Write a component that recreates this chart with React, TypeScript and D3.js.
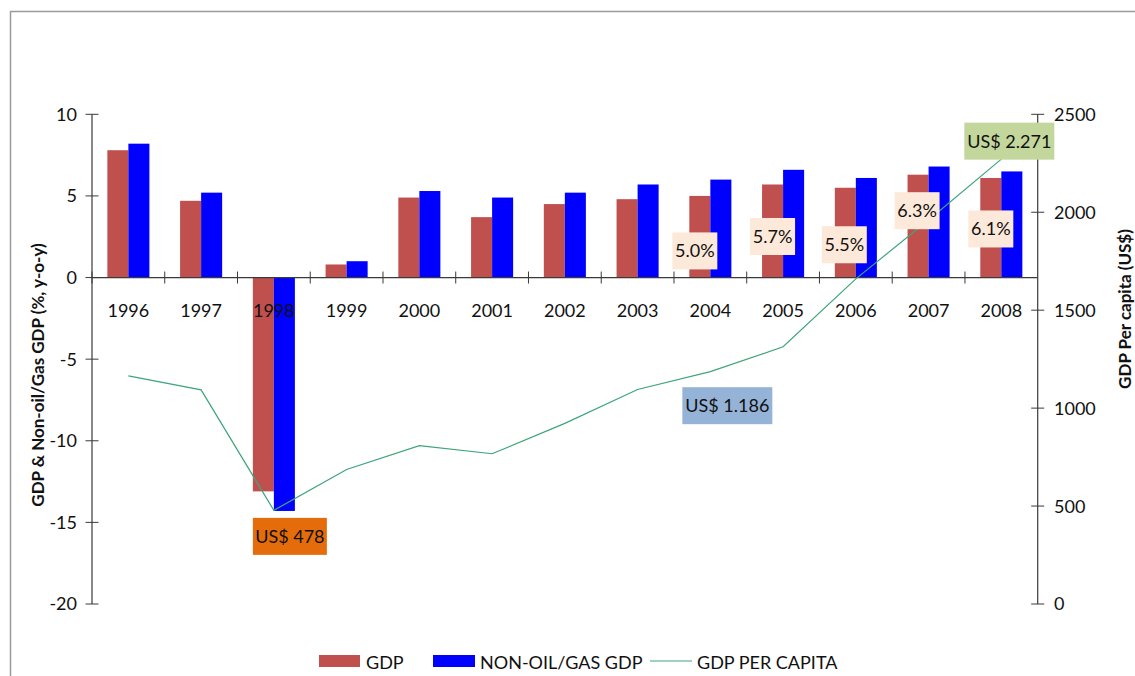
import React from 'react';
import * as d3 from 'd3';

const years = ['1996', '1997', '1998', '1999', '2000', '2001', '2002', '2003', '2004', '2005', '2006', '2007', '2008'];
const gdpGrowth = [7.8, 4.7, -13.1, 0.8, 4.9, 3.7, 4.5, 4.8, 5.0, 5.7, 5.5, 6.3, 6.1];
const nonOilGrowth = [8.2, 5.2, -14.3, 1.0, 5.3, 4.9, 5.2, 5.7, 6.0, 6.6, 6.1, 6.8, 6.5];
const perCapita = [1165, 1093, 478, 687, 808, 767, 922, 1095, 1186, 1313, 1660, 1960, 2271];
const leftTicks = [-20, -15, -10, -5, 0, 5, 10];
const rightTicks = [0, 500, 1000, 1500, 2000, 2500];
const pctLabelYears = ['2004', '2005', '2006', '2007', '2008'];
const capitaLabels = [
  { year: '1998', text: 'US$ 478' },
  { year: '2004', text: 'US$ 1.186' },
  { year: '2008', text: 'US$ 2.271' },
];

// label nudges in px (dx, dy of box centre from the anchor point)
const pctNudge = [[-5, 55], [0, 52], [-1, 57], [-1, 36], [0, 51]];
const capitaStyle = [
  { dx: 16, dy: 26, w: 74, fill: '#E46C0A' },
  { dx: 17, dy: 34, w: 90, fill: '#95B3D7' },
  { dx: 8, dy: -18, w: 90, fill: '#C3D69B' },
];

const W = 1135;
const H = 676;
const left = 92;
const right = 1037.7;
const top = 114.3;
const bottom = 604;
const font = 'Lato, "Open Sans", sans-serif';
const axisColor = '#3a3a3a';

export default function App() {
  const x = d3.scaleBand<string>().domain(years).range([left, right]).padding(0);
  const inner = d3.scaleBand<string>().domain(['gdp', 'nonoil']).range([0, x.bandwidth()]).paddingInner(0).paddingOuter(0.73);
  const yL = d3.scaleLinear().domain([-20, 10]).range([bottom, top]);
  const yR = d3.scaleLinear().domain([0, 2500]).range([bottom, top]);
  const cx = (y: string) => (x(y) as number) + x.bandwidth() / 2;

  const line = d3.line<number>().x((_, i) => cx(years[i])).y((d) => yR(d));
  const y0 = yL(0);

  return (
    <svg width={W} height={H} style={{ position: 'absolute', left: 0, top: 0, background: '#fff' }} fontFamily={font}>
      {/* frame */}
      <path d={`M10.5,${H}V11.5H${W}`} fill="none" stroke="#9a9a9a" strokeWidth={1.5} />

      {/* bars */}
      {years.map((yr, i) => (
        <g key={yr}>
          <rect x={(x(yr) as number) + (inner('gdp') as number)} width={inner.bandwidth()}
            y={Math.min(yL(gdpGrowth[i]), y0)} height={Math.abs(yL(gdpGrowth[i]) - y0)} fill="#C0504D" />
          <rect x={(x(yr) as number) + (inner('nonoil') as number)} width={inner.bandwidth()}
            y={Math.min(yL(nonOilGrowth[i]), y0)} height={Math.abs(yL(nonOilGrowth[i]) - y0)} fill="#0000FF" />
        </g>
      ))}

      {/* x axis */}
      <line x1={left} x2={right} y1={y0} y2={y0} stroke={axisColor} strokeWidth={1.2} />
      {years.map((yr) => (
        <line key={'t' + yr} x1={x(yr) as number} x2={x(yr) as number} y1={y0 - 6} y2={y0 + 6} stroke={axisColor} />
      ))}
      {years.map((yr) => (
        <text key={'l' + yr} x={cx(yr)} y={316.5} textAnchor="middle" fontSize={18} fill="#111">{yr}</text>
      ))}

      {/* left axis */}
      <line x1={left} x2={left} y1={top} y2={bottom} stroke={axisColor} strokeWidth={1.2} />
      {leftTicks.map((t) => (
        <g key={'yl' + t}>
          <line x1={left - 6.5} x2={left + 6.5} y1={yL(t)} y2={yL(t)} stroke={axisColor} />
          <text x={77} y={yL(t)} dy="0.36em" textAnchor="end" fontSize={18} fill="#111">{t}</text>
        </g>
      ))}
      <text transform="translate(44,375) rotate(-90)" textAnchor="middle" fontSize={17} fontWeight="bold" fill="#111">
        GDP &amp; Non-oil/Gas GDP (%, y-o-y)
      </text>

      {/* right axis */}
      <line x1={right} x2={right} y1={top} y2={bottom} stroke={axisColor} strokeWidth={1.2} />
      {rightTicks.map((t) => (
        <g key={'yr' + t}>
          <line x1={right - 6.5} x2={right + 6.5} y1={yR(t)} y2={yR(t)} stroke={axisColor} />
          <text x={1054} y={yR(t)} dy="0.36em" textAnchor="start" fontSize={18} fill="#111">{t}</text>
        </g>
      ))}
      <text transform="translate(1131,309) rotate(-90)" textAnchor="middle" fontSize={17} fontWeight="bold" fill="#111">
        GDP Per capita (US$)
      </text>

      {/* per-capita line */}
      <path d={line(perCapita) as string} fill="none" stroke="#3DA57A" strokeWidth={1.2} />

      {/* GDP growth labels */}
      {pctLabelYears.map((yr, k) => {
        const i = years.indexOf(yr);
        const bx = (x(yr) as number) + (inner('gdp') as number) + inner.bandwidth() / 2 + pctNudge[k][0];
        const by = yL(gdpGrowth[i]) + pctNudge[k][1];
        return (
          <g key={'p' + yr}>
            <rect x={bx - 22.5} y={by - 18.5} width={45} height={37} fill="#FDE9D9" />
            <text x={bx} y={by} dy="0.36em" textAnchor="middle" fontSize={18} fill="#111">
              {gdpGrowth[i].toFixed(1)}%
            </text>
          </g>
        );
      })}

      {/* per-capita labels */}
      {capitaLabels.map((c, k) => {
        const i = years.indexOf(c.year);
        const s = capitaStyle[k];
        const bx = cx(c.year) + s.dx;
        const by = yR(perCapita[i]) + s.dy;
        return (
          <g key={'c' + c.year}>
            <rect x={bx - s.w / 2} y={by - 18.5} width={s.w} height={37} fill={s.fill} />
            <text x={bx} y={by} dy="0.36em" textAnchor="middle" fontSize={18} fill="#111">{c.text}</text>
          </g>
        );
      })}

      {/* legend */}
      <g fontSize={18} fill="#111">
        <rect x={319} y={655} width={41} height={12} fill="#C0504D" />
        <text x={366} y={669}>GDP</text>
        <rect x={433} y={655} width={42} height={12} fill="#0000FF" />
        <text x={480} y={669}>NON-OIL/GAS GDP</text>
        <line x1={650} x2={692} y1={661} y2={661} stroke="#3DA57A" strokeWidth={1.2} />
        <text x={697} y={669}>GDP PER CAPITA</text>
      </g>
    </svg>
  );
}
